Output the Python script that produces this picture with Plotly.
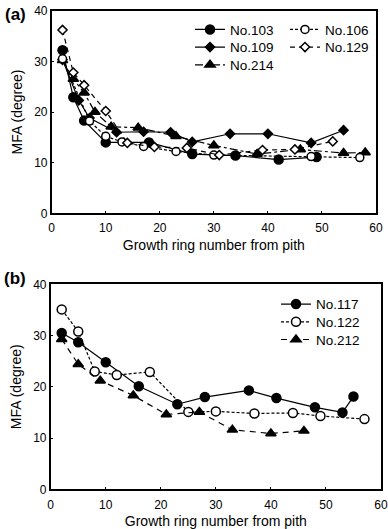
import plotly.graph_objects as go

# Panel (a)
a103_x = [2, 4, 6, 10, 18, 26, 34, 42, 49]
a103_y = [32.2, 22.9, 18.3, 14.0, 14.0, 11.7, 11.4, 10.6, 11.1]
a106_x = [2, 7, 10, 13, 17, 23, 30, 48, 57]
a106_y = [30.5, 18.2, 15.2, 14.1, 13.2, 12.2, 11.5, 11.2, 11.0]
a109_x = [2, 5, 7, 12, 17, 22, 26, 33, 40, 48, 54]
a109_y = [30.3, 22.3, 18.8, 16.0, 16.1, 16.0, 14.1, 15.7, 15.7, 13.9, 16.4]
a129_x = [2, 4, 6, 10, 14, 19, 25, 31, 39, 45, 52]
a129_y = [36.2, 27.8, 25.3, 20.2, 13.9, 13.1, 12.9, 11.5, 12.5, 12.6, 14.2]
a214_x = [2, 4, 6, 8, 11, 16, 23, 30, 38, 46, 54, 58]
a214_y = [30.2, 26.5, 23.8, 20.0, 17.1, 16.9, 15.2, 13.4, 11.7, 12.6, 11.9, 12.0]

# Panel (b)
b117_x = [2, 5, 10, 16, 23, 28, 36, 41, 48, 53, 55]
b117_y = [30.5, 28.7, 24.8, 20.1, 16.6, 18.0, 19.3, 17.8, 16.0, 15.0, 18.1]
b122_x = [2, 5, 8, 12, 18, 25, 30, 37, 44, 49, 57]
b122_y = [35.1, 30.8, 23.0, 22.3, 22.9, 15.1, 15.2, 14.8, 14.9, 14.3, 13.7]
b212_x = [2, 5, 9, 15, 21, 27, 33, 40, 46]
b212_y = [29.3, 24.4, 21.2, 18.3, 14.6, 15.1, 11.6, 10.9, 11.4]

x_ticks = [0, 10, 20, 30, 40, 50, 60]
y_ticks = [0, 10, 20, 30, 40]
x_title = "Growth ring number from pith"
y_title = "MFA (degree)"

FONT = "Liberation Sans, Arial, sans-serif"
fig = go.Figure()

def add(x, y, name, dash, symbol, size, xa, ya, legend, filled=True):
    fig.add_trace(go.Scatter(
        x=x, y=y, name=name, mode="lines+markers",
        line=dict(color="black", width=1.2, dash=dash),
        marker=dict(symbol=symbol, size=size,
                    color="black" if filled else "white",
                    line=dict(color="black", width=1.5)),
        xaxis=xa, yaxis=ya, legend=legend))

add(a103_x, a103_y, "No.103", "solid", "circle", 9, "x", "y", "legend")
add(a109_x, a109_y, "No.109", "solid", "diamond", 7, "x", "y", "legend2")
add(a214_x, a214_y, "No.214", "8px,3px,3px,3px", "triangle-up", 9, "x", "y", "legend3")
add(a106_x, a106_y, "No.106", "3px,2px", "circle", 8, "x", "y", "legend4", filled=False)
add(a129_x, a129_y, "No.129", "5px,4px", "diamond", 7, "x", "y", "legend5", filled=False)

add(b117_x, b117_y, "No.117", "solid", "circle", 9, "x2", "y2", "legend6")
add(b122_x, b122_y, "No.122", "3px,2px", "circle", 9, "x2", "y2", "legend7", filled=False)
add(b212_x, b212_y, "No.212", "6px,5px", "triangle-up", 9, "x2", "y2", "legend8")

axis_common = dict(showline=True, linecolor="black", linewidth=1.5, mirror=True,
                   ticks="inside", ticklen=3, tickcolor="black", showgrid=False,
                   zeroline=False, automargin=False,
                   tickfont=dict(size=12, color="black", family=FONT))

# body margin is removed by the post script, so figure pixels == page pixels
FW, FH = 388, 529
L, R, T, B = 50, 5, 10, 38
W_plot = FW - L - R
H_plot = FH - T - B

def px_x(p):
    return (p - L) / W_plot

def px_y(p):
    return 1 - (p - T) / H_plot

def leg(xp, yp):
    return dict(x=px_x(xp), y=px_y(yp), xanchor="left", yanchor="middle",
                bgcolor="rgba(0,0,0,0)", font=dict(size=13.5), itemwidth=30)

fig.update_layout(
    width=FW, height=FH,
    margin=dict(l=L, r=R, t=T, b=B),
    paper_bgcolor="white", plot_bgcolor="white",
    font=dict(family=FONT, color="black"),
    showlegend=True,
    xaxis=dict(domain=[px_x(51.7), px_x(376)], range=[0, 60], tickvals=x_ticks, anchor="y",
               ticklabelstandoff=3,
               title=dict(text=x_title, font=dict(size=14), standoff=6), **axis_common),
    yaxis=dict(domain=[px_y(213.3), px_y(10.7)], range=[0, 40], tickvals=y_ticks, anchor="x",
               title=dict(text=y_title, font=dict(size=14), standoff=8), **axis_common),
    xaxis2=dict(domain=[px_x(50.7), px_x(381)], range=[0, 60], tickvals=x_ticks, anchor="y2",
                ticklabelstandoff=4,
                title=dict(text=x_title, font=dict(size=14), standoff=6), **axis_common),
    yaxis2=dict(domain=[px_y(489.3), px_y(284.3)], range=[0, 40], tickvals=y_ticks, anchor="x2",
                title=dict(text=y_title, font=dict(size=14), standoff=8), **axis_common),
    legend=leg(190, 29.7),
    legend2=leg(190, 47.3),
    legend3=leg(190, 65),
    legend4=leg(285, 29.7),
    legend5=leg(285, 47.3),
    legend6=leg(276, 304.3),
    legend7=leg(276, 322),
    legend8=leg(276, 339.7),
    annotations=[
        dict(text="<b>(a)</b>", x=px_x(15), y=px_y(14), xref="paper", yref="paper",
             showarrow=False, font=dict(size=17), xanchor="center", yanchor="middle"),
        dict(text="<b>(b)</b>", x=px_x(15), y=px_y(278), xref="paper", yref="paper",
             showarrow=False, font=dict(size=17), xanchor="center", yanchor="middle"),
    ],
)

fig.write_html(
    "out.html",
    config={"displayModeBar": False},
    post_script="document.body.style.margin='0';document.body.style.overflow='hidden';",
)
